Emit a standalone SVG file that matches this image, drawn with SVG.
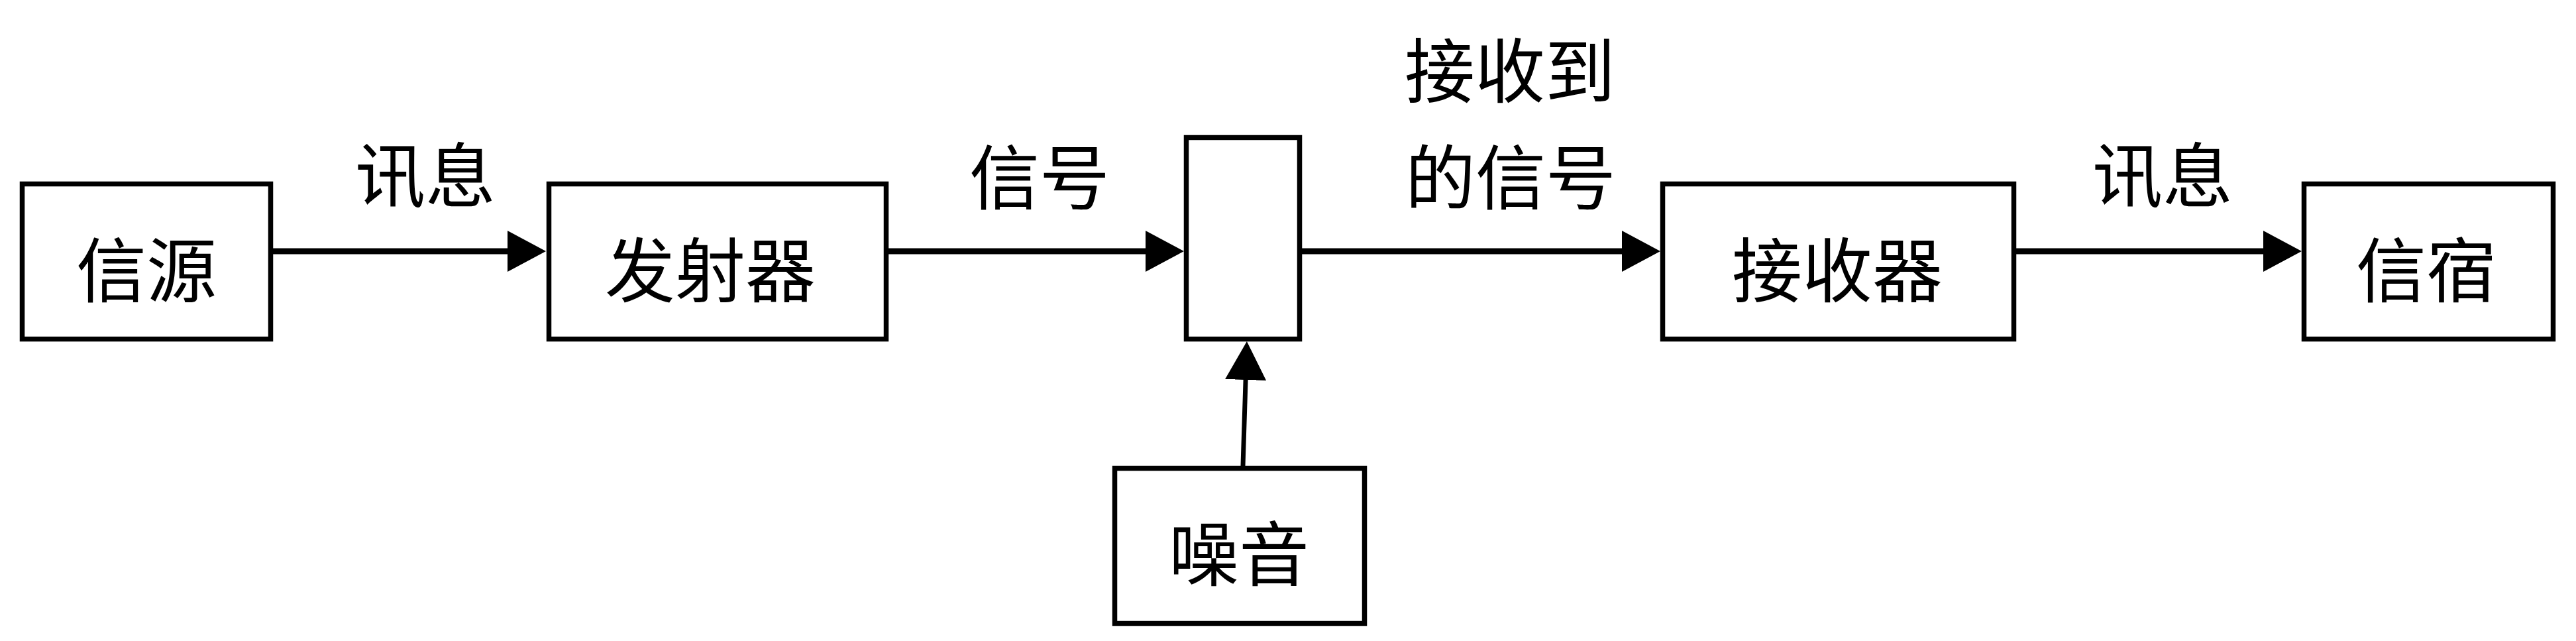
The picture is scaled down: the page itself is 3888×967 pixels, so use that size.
<svg xmlns="http://www.w3.org/2000/svg" width="3888" height="967" viewBox="0 0 3888 967">
<style>
.box{fill:#fff;stroke:#000;stroke-width:7.5}
.t{font-family:"Noto Sans CJK SC","Noto Sans CJK TC",sans-serif;font-size:106px;fill:#000;text-anchor:middle;dominant-baseline:central}
.edge{stroke:#000;stroke-width:9;fill:none}
</style>
<defs>
<marker id="ah" viewBox="0 0 58 62" markerWidth="58" markerHeight="62" refX="1" refY="31" orient="auto" markerUnits="userSpaceOnUse">
<path d="M0,0 L58,31 L0,62 z" fill="#000"/>
</marker>
</defs>
<rect width="3888" height="967" fill="#fff"/>
<g id="connectors">
<line class="edge" x1="412" y1="379" x2="767" y2="379" marker-end="url(#ah)"/>
<line class="edge" x1="1341" y1="379" x2="1730" y2="379" marker-end="url(#ah)"/>
<line class="edge" x1="1965" y1="379" x2="2449" y2="379" marker-end="url(#ah)"/>
<line class="edge" x1="3043" y1="379" x2="3417" y2="379" marker-end="url(#ah)"/>
<line class="edge" style="stroke-width:7" x1="1876" y1="703" x2="1880.1" y2="572" marker-end="url(#ah)"/>
<text class="t" x="642" y="258">讯息</text>
<text class="t" x="1569" y="261">信号</text>
<text class="t" x="2279" y="100">接收到</text>
<text class="t" x="2280" y="261">的信号</text>
<text class="t" x="3264" y="258">讯息</text>
</g>
<g id="source">
<rect class="box" x="33.5" y="277.5" width="375" height="234"/>
<text class="t" x="221" y="401">信源</text>
</g>
<g id="transmitter">
<rect class="box" x="828.5" y="277.5" width="509" height="234"/>
<text class="t" x="1072" y="401">发射器</text>
</g>
<g id="channel">
<rect class="box" x="1790.5" y="207.5" width="171" height="304"/>
</g>
<g id="receiver">
<rect class="box" x="2509.5" y="277.5" width="530" height="234"/>
<text class="t" x="2773" y="401">接收器</text>
</g>
<g id="destination">
<rect class="box" x="3477.5" y="277.5" width="376" height="234"/>
<text class="t" x="3662" y="401">信宿</text>
</g>
<g id="noise">
<rect class="box" x="1682.5" y="706.5" width="377" height="234"/>
<text class="t" x="1870" y="829">噪音</text>
</g>
</svg>
